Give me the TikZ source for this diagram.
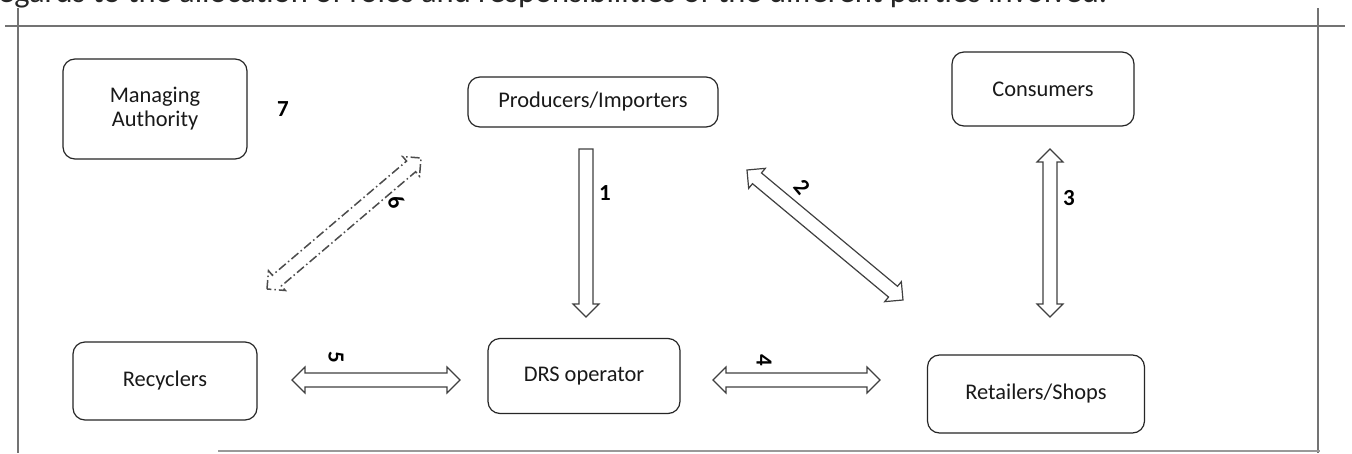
\documentclass[tikz,border=0pt]{standalone}
\usepackage{fontspec}
\setmainfont{Carlito}
\usetikzlibrary{calc}
\tikzset{
  box/.style={draw=black!85, line width=1.2pt, rounded corners=12pt, fill=white, align=center, font=\fontsize{22.4}{26}\selectfont, text=black!90},
  num/.style={font=\fontsize{23}{24}\selectfont\bfseries},
  frame/.style={draw=black!55, line width=1.4pt},
  fat/.style={draw=black!75, line width=1.2pt, fill=white, line join=miter},
  fatdd/.style={draw=black!70, line width=1.5pt, dash pattern=on 9pt off 3pt on 1.5pt off 3pt, fill=white},
}
% double-headed hollow arrow: #1 style, #2 start, #3 end
\newcommand{\hollowdbl}[3]{%
  \coordinate (hp1) at ($(#2)!13pt!(#3)$);
  \coordinate (hp2) at ($(#3)!13pt!(#2)$);
  \draw[#1] (#2) -- ($(hp1)!13pt!90:(#3)$) -- ($(hp1)!7pt!90:(#3)$)
    -- ($(hp2)!7pt!-90:(#2)$) -- ($(hp2)!13pt!-90:(#2)$) -- (#3)
    -- ($(hp2)!13pt!90:(#2)$) -- ($(hp2)!7pt!90:(#2)$)
    -- ($(hp1)!7pt!-90:(#3)$) -- ($(hp1)!13pt!-90:(#3)$) -- cycle;
}
% single-headed hollow arrow
\newcommand{\hollowone}[3]{%
  \coordinate (hp2) at ($(#3)!13pt!(#2)$);
  \draw[#1] ($(#2)!7pt!90:(#3)$) -- ($(hp2)!7pt!-90:(#2)$) -- ($(hp2)!13pt!-90:(#2)$) -- (#3)
    -- ($(hp2)!13pt!90:(#2)$) -- ($(hp2)!7pt!90:(#2)$) -- ($(#2)!7pt!-90:(#3)$) -- cycle;
}
\begin{document}
\begin{tikzpicture}[x=1pt,y=-1pt]
\useasboundingbox (0,0) rectangle (1352,453);
\fill[white] (0,0) rectangle (1352,453);
% cut-off caption line at top
\begin{scope}
\clip (0,0) rectangle (1352,453);
\node[anchor=base west, inner sep=0pt, font=\fontsize{32.5}{33}\selectfont, text=black!85] (cap) at (-2,2) {egards to the allocation of roles and responsibilities of the different parties involved.};
\end{scope}
% frame
\draw[frame] (5,26) -- (1345,26);
\draw[frame] (18,8) -- (18,453);
\draw[frame] (1318,8) -- (1318,453);
\draw[draw=black!40, line width=1.4pt] (218,451) -- (1320,451);
% boxes
\node[box, minimum width=184pt, minimum height=100pt] (ma) at (155,109) {Managing\\[-2pt]Authority};
\node[box, minimum width=250pt, minimum height=50pt] (pi) at (593,102) {Producers/Importers};
\node[box, minimum width=182pt, minimum height=74pt] (co) at (1043,89) {Consumers};
\node[box, minimum width=184pt, minimum height=78pt] (re) at (165,381) {Recyclers};
\node[box, minimum width=192pt, minimum height=75pt] (drs) at (584,376) {DRS operator};
\node[box, minimum width=217pt, minimum height=78pt] (rs) at (1036,394) {Retailers/Shops};
\node[num] (n7) at (283,109) {7};
% arrow end points
\coordinate (a1s) at (586,149);
\coordinate (a1e) at (586,317);
\coordinate (a2s) at (747,170);
\coordinate (a2e) at (903,300);
\coordinate (a3s) at (1050,149);
\coordinate (a3e) at (1050,317);
\coordinate (a4s) at (713,380);
\coordinate (a4e) at (880,380);
\coordinate (a5s) at (292,380);
\coordinate (a5e) at (460,380);
\coordinate (a6s) at (267,289);
\coordinate (a6e) at (421,158);
\hollowone{fat}{a1s}{a1e}
\hollowdbl{fat}{a2s}{a2e}
\hollowdbl{fat}{a3s}{a3e}
\hollowdbl{fat}{a4s}{a4e}
\hollowdbl{fat}{a5s}{a5e}
\hollowdbl{fatdd}{a6s}{a6e}
% labels
\node[num] (n1) at (605,193) {1};
\node[num, rotate=-50] (n2) at (802,187) {2};
\node[num] (n3) at (1069,198) {3};
\node[num, rotate=-90] (n4) at (764,360) {4};
\node[num, rotate=-90] (n5) at (336,357) {5};
\node[num, rotate=-60] (n6) at (396,202) {6};
\end{tikzpicture}
\end{document}
